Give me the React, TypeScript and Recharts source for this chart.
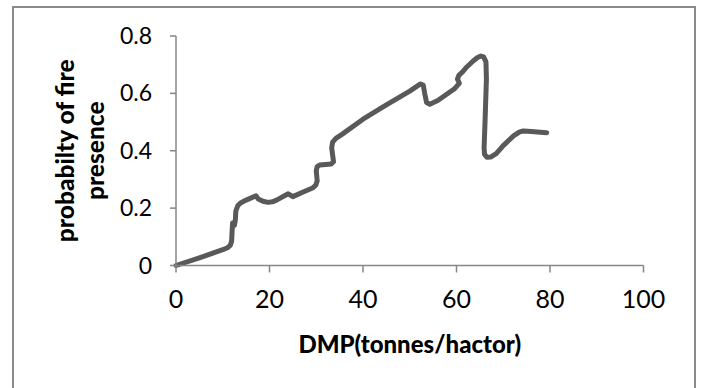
import React from "react";
import { LineChart, Line, XAxis, YAxis, Label } from "recharts";

const dmp = [0, 5, 10, 11.0, 11.6, 11.9, 12.0, 12.1, 12.5, 12.7, 12.8, 13.2, 13.8, 15, 17.1, 17.6, 18.6, 19.7, 20.6, 21.5, 24.0, 25.0, 27.2, 29.2, 29.9, 30.2, 30.0, 30.2, 30.7, 32.0, 33.2, 33.7, 33.5, 33.3, 33.5, 34.2, 35.5, 40, 45, 50, 52.3, 52.9, 53.2, 53.6, 54.3, 56, 59.5, 60.6, 60.2, 60.5, 61.3, 62.2, 63.5, 64.5, 65.2, 65.8, 66.3, 66.4, 66.2, 66.1, 65.9, 66.0, 66.5, 67.3, 68.5, 70, 72.2, 73.5, 74.3, 76, 79.3];
const prob = [0, 0.027, 0.055, 0.062, 0.07, 0.085, 0.12, 0.148, 0.14, 0.16, 0.19, 0.208, 0.218, 0.228, 0.243, 0.232, 0.224, 0.22, 0.222, 0.228, 0.25, 0.24, 0.256, 0.27, 0.28, 0.295, 0.33, 0.345, 0.35, 0.352, 0.354, 0.362, 0.385, 0.41, 0.43, 0.443, 0.457, 0.51, 0.56, 0.608, 0.633, 0.628, 0.6, 0.568, 0.562, 0.575, 0.615, 0.635, 0.65, 0.663, 0.675, 0.692, 0.712, 0.725, 0.73, 0.727, 0.71, 0.65, 0.55, 0.5, 0.41, 0.388, 0.377, 0.378, 0.39, 0.418, 0.452, 0.466, 0.469, 0.467, 0.463];
const xTicks = [0, 20, 40, 60, 80, 100];
const yTicks = [0, 0.2, 0.4, 0.6, 0.8];
const xTitle = "DMP(tonnes/hactor)";
const yTitleLines = ["probabilty of fire", "presence"];

const data = dmp.map((x, i) => ({ x, y: prob[i] }));

const FONT = "Lato, 'Open Sans', sans-serif";
const AXIS = "#868686";

const XTick = (props: any) => {
  const { x, y, payload } = props;
  return (
    <text x={x} y={y + 34} textAnchor="middle" fontFamily={FONT} fontSize={25} fill="#000">
      {payload.value}
    </text>
  );
};

const YTick = (props: any) => {
  const { x, y, payload } = props;
  return (
    <text x={x} y={y + 8} textAnchor="end" fontFamily={FONT} fontSize={23} fill="#000">
      {payload.value}
    </text>
  );
};

const XTitle = (props: any) => {
  const vb = props.viewBox || {};
  const cx = vb.x + vb.width / 2;
  return (
    <text x={cx} y={vb.y + 87.5} textAnchor="middle" fontFamily={FONT} fontWeight={900} fontSize={24} fill="#000">
      {xTitle}
    </text>
  );
};

const YTitle = (props: any) => {
  const vb = props.viewBox || {};
  const cy = vb.y + vb.height / 2;
  const xs = [vb.x - 42, vb.x - 12];
  return (
    <g>
      {yTitleLines.map((t, i) => (
        <text
          key={i}
          x={xs[i]}
          y={cy}
          transform={`rotate(-90, ${xs[i]}, ${cy})`}
          textAnchor="middle"
          fontFamily={FONT}
          fontWeight={900}
          fontSize={24.5}
          fill="#000"
        >
          {t}
        </text>
      ))}
    </g>
  );
};

export default function App() {
  return (
    <div style={{ position: "absolute", left: 0, top: 0, width: 701, height: 388, background: "#fff" }}>
      <div
        style={{
          position: "absolute",
          left: 12,
          top: 6,
          width: 680,
          height: 380,
          border: "2px solid #8a8a8a",
        }}
      />
      <div style={{ position: "absolute", left: 0, top: 0 }}>
        <LineChart width={701} height={388} data={data} margin={{ top: 36, right: 57.5, bottom: 92.5, left: 116 }}>
          <XAxis
            type="number"
            dataKey="x"
            domain={[0, 100]}
            ticks={xTicks}
            interval={0}
            height={30}
            tickSize={7}
            tickMargin={1}
            stroke={AXIS}
            axisLine={{ stroke: AXIS, strokeWidth: 1.5 }}
            tickLine={{ stroke: AXIS, strokeWidth: 1.5 }}
            tick={<XTick />}
          >
            <Label content={<XTitle />} />
          </XAxis>
          <YAxis
            type="number"
            domain={[0, 0.8]}
            ticks={yTicks}
            interval={0}
            width={60}
            tickSize={6}
            tickMargin={18}
            stroke={AXIS}
            axisLine={{ stroke: AXIS, strokeWidth: 1.5 }}
            tickLine={{ stroke: AXIS, strokeWidth: 1.5 }}
            tick={<YTick />}
          >
            <Label content={<YTitle />} />
          </YAxis>
          <Line
            type="linear"
            dataKey="y"
            stroke="#595959"
            strokeWidth={5}
            strokeLinejoin="round"
            strokeLinecap="round"
            dot={false}
            activeDot={false}
            isAnimationActive={false}
          />
        </LineChart>
      </div>
    </div>
  );
}
